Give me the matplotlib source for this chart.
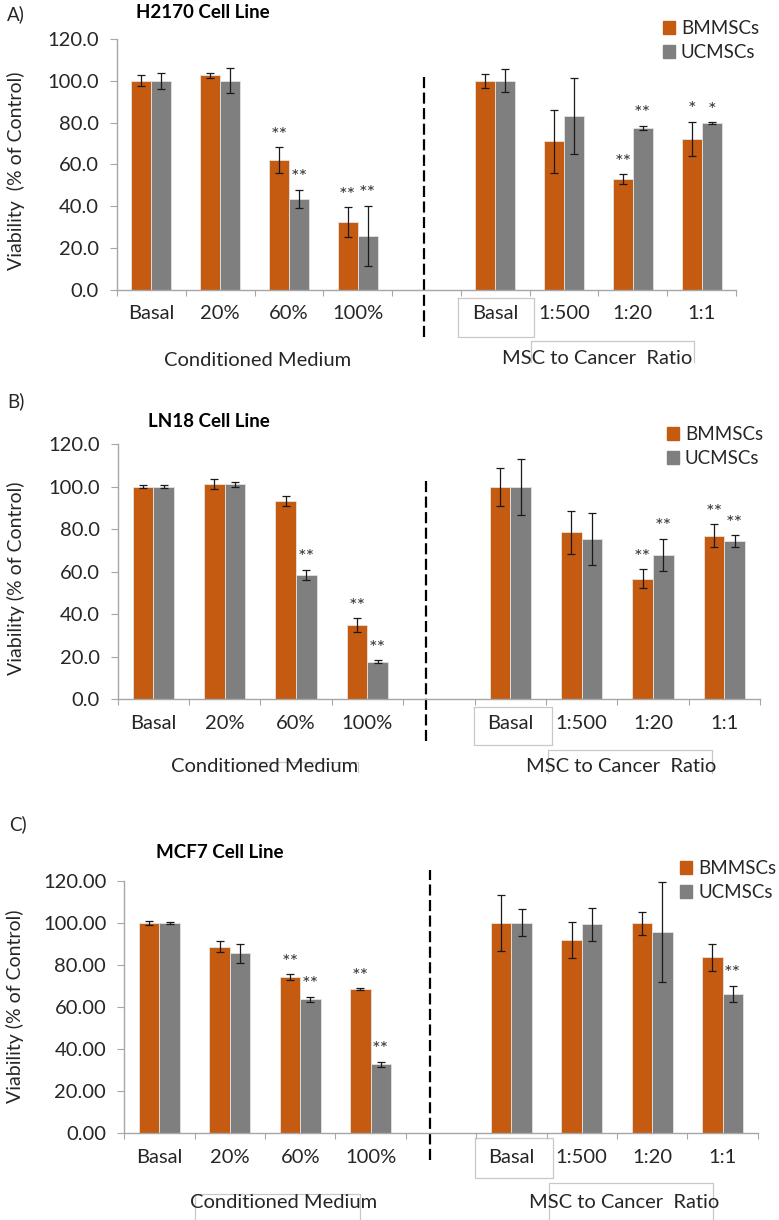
"""
Viability of three cancer cell lines under MSC conditioned medium / co-culture.
"""

import numpy as np
import matplotlib.pyplot as plt
from matplotlib.lines import Line2D
from matplotlib.patches import Patch

plt.rcParams['font.family'] = ['Lato', 'DejaVu Sans']

W, H = 779, 1220

# category labels (left group = conditioned medium, right group = MSC:cancer ratio)
cm_labels = ["Basal", "20%", "60%", "100%"]
ratio_labels = ["Basal", "1:500", "1:20", "1:1"]
series_names = ["BMMSCs", "UCMSCs"]

# A) H2170
h2170_bm = [100.0, 102.6, 62.1, 32.5, 100.0, 71.0, 53.0, 72.1]
h2170_bm_err = [2.5, 1.3, 6.0, 7.0, 3.4, 15.0, 2.3, 8.3]
h2170_uc = [100.0, 100.0, 43.5, 25.8, 100.0, 83.1, 77.3, 79.8]
h2170_uc_err = [3.8, 6.0, 4.3, 14.5, 5.4, 18.0, 1.1, 0.3]
h2170_bm_sig = ["", "", "**", "**", "", "", "**", "*"]
h2170_uc_sig = ["", "", "**", "**", "", "", "**", "*"]

# B) LN18
ln18_bm = [100.0, 101.2, 93.3, 35.0, 100.0, 78.6, 56.8, 77.0]
ln18_bm_err = [0.8, 2.3, 2.5, 3.1, 9.0, 10.2, 4.4, 5.5]
ln18_uc = [100.0, 101.2, 58.5, 17.7, 100.0, 75.3, 67.9, 74.5]
ln18_uc_err = [0.8, 1.2, 2.4, 0.8, 13.3, 12.2, 7.7, 2.7]
ln18_bm_sig = ["", "", "", "**", "", "", "**", "**"]
ln18_uc_sig = ["", "", "**", "**", "", "", "**", "**"]

# C) MCF7
mcf7_bm = [100.0, 88.6, 74.1, 68.4, 100.0, 91.8, 99.7, 83.6]
mcf7_bm_err = [1.0, 2.7, 1.5, 0.5, 13.3, 8.7, 5.3, 6.5]
mcf7_uc = [100.0, 85.6, 63.6, 32.8, 100.0, 99.3, 95.6, 66.2]
mcf7_uc_err = [0.5, 4.5, 1.2, 1.2, 6.4, 7.9, 23.6, 4.0]
mcf7_bm_sig = ["", "", "**", "**", "", "", "", ""]
mcf7_uc_sig = ["", "", "**", "**", "", "", "", "**"]

ORANGE = '#C55A11'
GREY = '#7F7F7F'
AXGREY = '#A6A6A6'
TXT = '#262626'

FS = 14.5  # general text size


def fx(x):
    return x / W


def fy(y):
    return 1 - y / H


def px_rect(left, top, right, bottom):
    return [fx(left), fy(bottom), (right - left) / W, (bottom - top) / H]


def fig_line(fig, xs, ys):
    fig.add_artist(Line2D([fx(v) for v in xs], [fy(v) for v in ys],
                          transform=fig.transFigure, color='#C8C8C8', lw=0.9))


def draw_panel(fig, p):
    ax = fig.add_axes(px_rect(*p['axbox']))
    pos = np.array([0, 1, 2, 3, 5, 6, 7, 8])
    bw = 0.29
    for off, vals, errs, sigs, col, name in [
            (-bw / 2, p['bm'], p['bm_err'], p['bm_sig'], ORANGE, series_names[0]),
            (bw / 2, p['uc'], p['uc_err'], p['uc_sig'], GREY, series_names[1])]:
        ax.bar(pos + off, vals, bw, color=col, edgecolor='#E3E3E3', linewidth=0.6,
               yerr=errs, capsize=3.2, label=name,
               error_kw=dict(ecolor='#1A1A1A', elinewidth=0.9, capthick=0.9))
        for x, v, e, s in zip(pos + off, vals, errs, sigs):
            if s:
                ax.annotate(s, (x, v + e), xytext=(0, 2.5), textcoords='offset points',
                            ha='center', va='bottom', fontsize=14.5, color='#333333')

    ax.set_xlim(-0.5, 8.5)
    ax.set_ylim(0, 120)
    ax.set_yticks(np.arange(0, 121, 20))
    ax.set_yticklabels([p['yfmt'] % v for v in np.arange(0, 121, 20)])
    ax.set_xticks(np.arange(-0.5, 9, 1))
    ax.set_xticklabels([])
    ax.set_xticks(pos, minor=True)
    ax.set_xticklabels(cm_labels + ratio_labels, minor=True)
    ax.tick_params(axis='x', which='major', length=4.5, color=AXGREY, direction='out')
    ax.tick_params(axis='x', which='minor', length=0, pad=11, labelsize=FS, labelcolor=TXT)
    ax.tick_params(axis='y', length=5, color=AXGREY, pad=8, labelsize=FS, labelcolor=TXT)
    for s in ['top', 'right']:
        ax.spines[s].set_visible(False)
    for s in ['left', 'bottom']:
        ax.spines[s].set_color(AXGREY)
        ax.spines[s].set_linewidth(1.0)

    # dashed separator between the two groups
    dx, dtop, dbot = p['dash']
    ax.plot([dx, dx], [dbot, dtop], color='black', lw=1.6, ls=(0, (5, 2)), clip_on=False)

    ax.set_ylabel(p['ylabel'], fontsize=14, color=TXT)
    ax.yaxis.label.set_va('center')
    ax.yaxis.set_label_coords(fx(p['ylab_xy'][0]), fy(p['ylab_xy'][1]), transform=fig.transFigure)

    fig.text(fx(p['tag_xy'][0]), fy(p['tag_xy'][1]), p['tag'], fontsize=13.5,
             ha='left', va='center', color=TXT)
    fig.text(fx(p['title_xy'][0]), fy(p['title_xy'][1]), p['title'], fontsize=13.5,
             fontweight='bold', ha='center', va='center', color='black')
    fig.text(fx(p['cm_xy'][0]), fy(p['cm_xy'][1]), "Conditioned Medium", fontsize=FS,
             ha='center', va='center', color=TXT)
    fig.text(fx(p['ratio_xy'][0]), fy(p['ratio_xy'][1]), "MSC to Cancer  Ratio", fontsize=FS,
             ha='center', va='center', color=TXT)

    # leftover text-box frames around some labels
    l, t, r, b = p['basal_box']
    fig_line(fig, [l, l, r, r, l], [t, b, b, t, t])
    l, t, r, b = p['ratio_box']
    fig_line(fig, [l, l, r, r], [b, t, t, b])
    if p.get('cm_box'):
        l, t, r, b, left_edge = p['cm_box']
        if left_edge:
            fig_line(fig, [l, l, r, r], [b, t, t, b])
        else:
            fig_line(fig, [l, r, r], [t, t, b])

    handles = [Patch(color=ORANGE), Patch(color=GREY)]
    lx, ly = p['leg_xy']
    fig.legend(handles, series_names, loc='upper left', bbox_to_anchor=(fx(lx), fy(ly)),
               bbox_transform=fig.transFigure, frameon=False, fontsize=13.5,
               handlelength=0.66, handleheight=0.66, handletextpad=0.3,
               labelspacing=0.38, borderpad=0, borderaxespad=0, labelcolor=TXT)
    return ax


panels = [
    dict(axbox=(117, 38.8, 736, 290), bm=h2170_bm, bm_err=h2170_bm_err, uc=h2170_uc,
         uc_err=h2170_uc_err, bm_sig=h2170_bm_sig, uc_sig=h2170_uc_sig, yfmt='%.1f',
         dash=(3.96, 103.7, -22.5), ylabel="Viability  (% of Control)", ylab_xy=(16, 171),
         tag="A)", tag_xy=(7, 14), title="H2170 Cell Line", title_xy=(203, 13),
         cm_xy=(258, 360), ratio_xy=(597, 358), basal_box=(458, 298, 534, 337),
         ratio_box=(531, 341, 694, 362), leg_xy=(663, 20)),
    dict(axbox=(117.7, 444.3, 760, 699.3), bm=ln18_bm, bm_err=ln18_bm_err, uc=ln18_uc,
         uc_err=ln18_uc_err, bm_sig=ln18_bm_sig, uc_sig=ln18_uc_sig, yfmt='%.1f',
         dash=(3.82, 104.3, -19.6), ylabel="Viability (% of Control)", ylab_xy=(16, 578),
         tag="B)", tag_xy=(7, 401), title="LN18 Cell Line", title_xy=(208.5, 422),
         cm_xy=(265, 767), ratio_xy=(621, 767), basal_box=(473.7, 706.7, 552.3, 745.3),
         ratio_box=(547.7, 750, 711.7, 773), cm_box=(233, 762, 358, 772, False),
         leg_xy=(667, 426)),
    dict(axbox=(124.3, 880.7, 757.7, 1133.3), bm=mcf7_bm, bm_err=mcf7_bm_err, uc=mcf7_uc,
         uc_err=mcf7_uc_err, bm_sig=mcf7_bm_sig, uc_sig=mcf7_uc_sig, yfmt='%.2f',
         dash=(3.85, 125, -12.7), ylabel="Viability (% of Control)", ylab_xy=(15, 1006),
         tag="C)", tag_xy=(9, 824), title="MCF7 Cell Line", title_xy=(219.5, 852),
         cm_xy=(284, 1203), ratio_xy=(624.5, 1202), basal_box=(474.7, 1138.3, 552.7, 1178.3),
         ratio_box=(548.7, 1182.7, 712.7, 1225), cm_box=(195, 1194, 360, 1225, True),
         leg_xy=(680, 860)),
]

fig = plt.figure(figsize=(W / 100, H / 100), dpi=100)
for p in panels:
    draw_panel(fig, p)

fig.savefig('out.png', dpi=100, facecolor='white')
